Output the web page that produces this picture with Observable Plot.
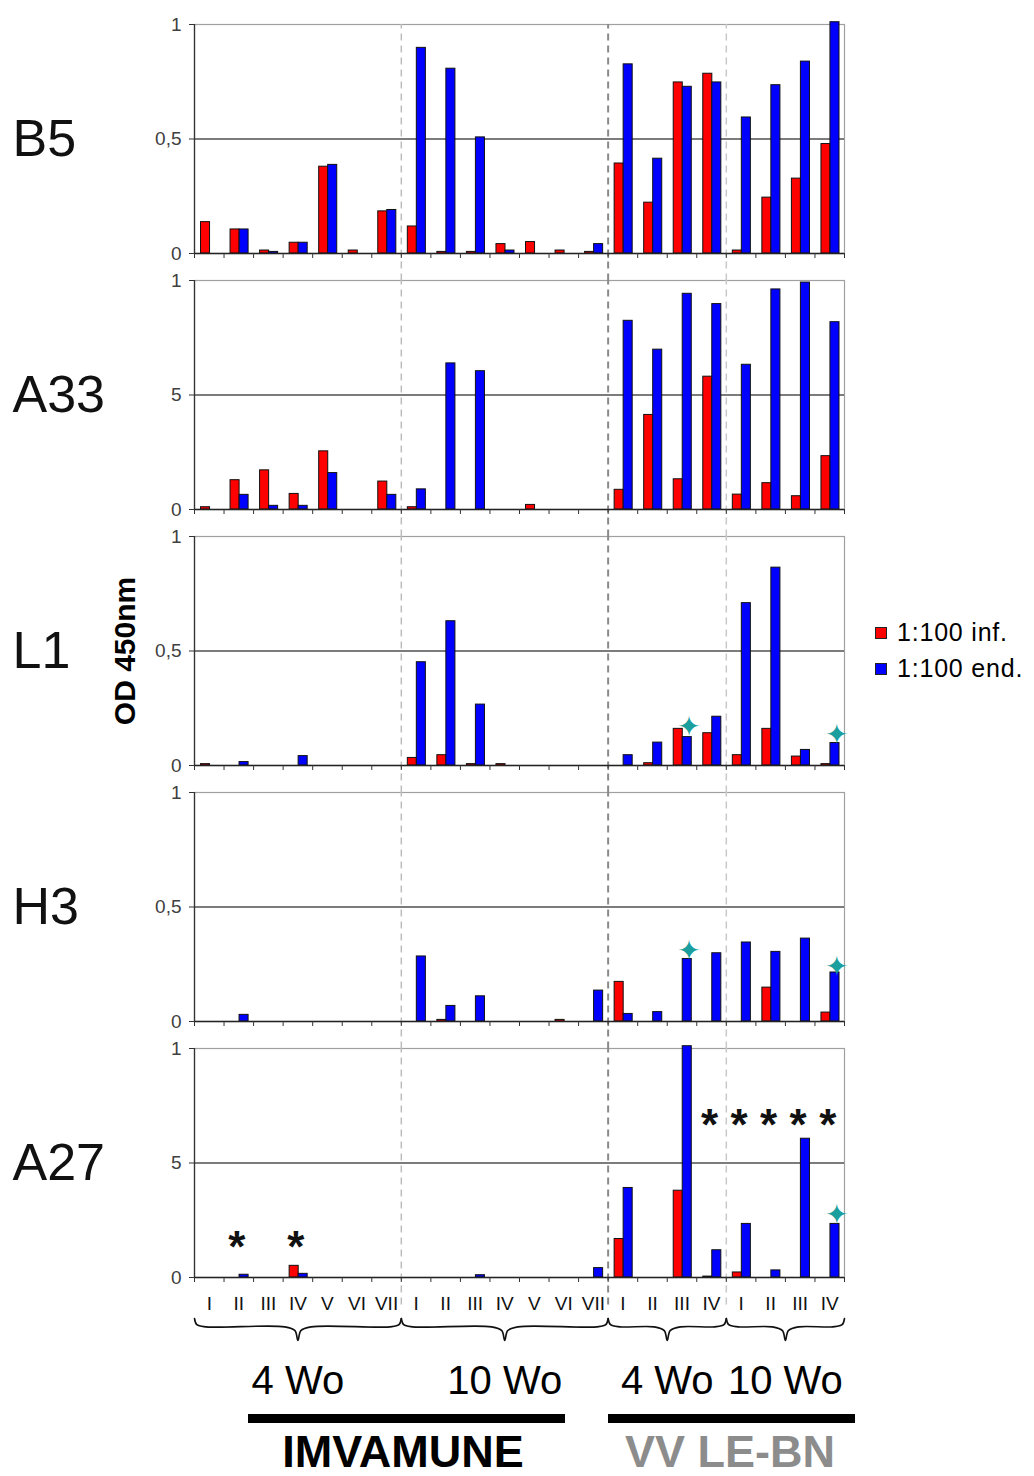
<!DOCTYPE html>
<html><head><meta charset="utf-8">
<script src="https://cdn.jsdelivr.net/npm/d3@7"></script>
<script src="https://cdn.jsdelivr.net/npm/@observablehq/plot@0.6"></script>
<style>
body{margin:0;background:#fff;font-family:"Liberation Sans",Arial,sans-serif;}
#wrap{position:relative;width:1034px;height:1476px;overflow:hidden;background:#fff;}
.abs{position:absolute;}
#main{left:0;top:0;}
#bottom{left:0;top:1310px;}
.ylab{left:125px;top:651px;transform:translate(-50%,-50%) rotate(-90deg);font-weight:bold;font-size:30px;line-height:1;white-space:nowrap;color:#000;}
.leg{left:875px;font-size:25px;letter-spacing:0.8px;color:#000;white-space:nowrap;display:flex;align-items:center;}
.leg span.sw{display:inline-block;width:10px;height:10px;border:1px solid #222;margin-right:10px;}
.vbar{height:9px;background:#000;}
.vname{font-weight:bold;font-size:45px;line-height:1;transform:translate(-50%,-50%);white-space:nowrap;}
</style></head><body>
<div id="wrap"></div>
<script>
// ---------- data ----------
const panels = ["B5", "A33", "L1", "H3", "A27"];
const groupLabels = ["I","II","III","IV","V","VI","VII","I","II","III","IV","V","VI","VII","I","II","III","IV","I","II","III","IV"];
const series = ["1:100 inf.", "1:100 end."];

const b5Inf  = [0.137,0.105,0.013,0.047,0.379,0.013,0.184,0.118,0.007,0.007,0.041,0.05,0.013,0.007,0.393,0.222,0.747,0.785,0.013,0.244,0.327,0.478];
const b5End  = [0,0.105,0.007,0.047,0.387,0,0.19,0.898,0.807,0.507,0.013,0,0,0.041,0.826,0.414,0.728,0.747,0.594,0.735,0.838,1.01];
const a33Inf = [0.01,0.128,0.171,0.068,0.254,0,0.122,0.01,0,0,0,0.02,0,0,0.086,0.413,0.132,0.58,0.065,0.115,0.058,0.233];
const a33End = [0,0.064,0.016,0.016,0.159,0,0.064,0.088,0.638,0.604,0,0,0,0,0.824,0.698,0.942,0.897,0.632,0.961,0.991,0.818];
const l1Inf  = [0.006,0,0,0,0,0,0,0.033,0.045,0.006,0.006,0,0,0,0,0.01,0.16,0.141,0.045,0.16,0.039,0.006];
const l1End  = [0,0.015,0,0.041,0,0,0,0.451,0.63,0.266,0,0,0,0,0.045,0.1,0.124,0.213,0.709,0.864,0.068,0.098];
const h3Inf  = [0,0,0,0,0,0,0,0,0.007,0,0,0,0.007,0,0.173,0,0,0,0,0.148,0,0.039];
const h3End  = [0,0.029,0,0,0,0,0,0.284,0.068,0.11,0,0,0,0.135,0.033,0.041,0.273,0.298,0.345,0.304,0.362,0.214];
const a27Inf = [0,0,0,0.051,0,0,0,0,0,0,0,0,0,0,0.168,0,0.379,0.004,0.022,0,0,0];
const a27End = [0,0.012,0,0.016,0,0,0,0,0,0.01,0,0,0,0.041,0.391,0,1.01,0.119,0.234,0.031,0.606,0.234];

const yTickValues = [0, 0.5, 1];
const yTickLabelsComma = ["0", "0,5", "1"];
const yTickLabelsFive  = ["0", "5", "1"];
const panelTickLabels = {B5: yTickLabelsComma, A33: yTickLabelsFive, L1: yTickLabelsComma, H3: yTickLabelsComma, A27: yTickLabelsFive};

// sections of the x axis (group index ranges)
const sectionLabels = ["4 Wo", "10 Wo", "4 Wo", "10 Wo"];
const sectionStarts = [0, 7, 14, 18];
const sectionEnds   = [7, 14, 18, 22];

// annotations: teal stars and asterisks (panel, group index, height)
const starPanels = ["L1", "L1", "H3", "H3", "A27"];
const starGroups = [16, 21, 16, 21, 21];
const starY      = [0.18, 0.145, 0.32, 0.25, 0.285];
const astPanels = ["A27","A27","A27","A27","A27","A27","A27"];
const astGroups = [1, 3, 17, 18, 19, 20, 21];
const astY      = [0.175, 0.175, 0.707, 0.707, 0.707, 0.707, 0.707];

const vaccineNames = ["IMVAMUNE", "VV LE-BN"];

// ---------- tables ----------
const panelData = {B5: [b5Inf, b5End], A33: [a33Inf, a33End], L1: [l1Inf, l1End], H3: [h3Inf, h3End], A27: [a27Inf, a27End]};
const rows = [];
for (const p of panels) {
  panelData[p].forEach((arr, s) => arr.forEach((v, i) => {
    if (v > 0) rows.push({panel: p, group: i, series: series[s], value: v});
  }));
}
const infRows = rows.filter(d => d.series === series[0]);
const endRows = rows.filter(d => d.series === series[1]);
const tickRows = panels.flatMap(p => yTickValues.map((v, k) => ({panel: p, value: v, label: panelTickLabels[p][k]})));
const stars = starPanels.map((p, k) => ({panel: p, group: starGroups[k], y: starY[k]}));
const asts = astPanels.map((p, k) => ({panel: p, group: astGroups[k], y: astY[k]}));
const sections = sectionLabels.map((l, k) => ({label: l, start: sectionStarts[k], end: sectionEnds[k]}));
const separators = sectionStarts.slice(1);
const boundaries = d3.range(0, groupLabels.length + 1);
const centers = d3.range(groupLabels.length).map(i => i + 0.5);

const W = 1034, ML = 194, MR = 190, MT = 23, MB = 40, H = 1317;
const font = "'Liberation Sans', Arial, sans-serif";

const sepStyle = k => [{stroke: "#bdbdbd", strokeWidth: 1.5}, {stroke: "#8a8a8a", strokeWidth: 2}, {stroke: "#c8c8c8", strokeWidth: 1.5}][k];

const main = Plot.plot({
  width: W, height: H,
  marginLeft: ML, marginRight: MR, marginTop: MT, marginBottom: MB,
  style: {fontFamily: font, background: "white", overflow: "visible"},
  x: {domain: [0, groupLabels.length]},
  y: {domain: [0, 1], axis: null},
  fy: {domain: panels, axis: null, paddingInner: 0.1063, paddingOuter: 0},
  marks: [
    Plot.frame({stroke: "#a0a0a0", strokeWidth: 1.2}),
    Plot.ruleY([0.5], {stroke: "#505050", strokeWidth: 1.3}),
    ...separators.map((s, k) => Plot.ruleX([s], {x: d => d, y1: -0.12, y2: 1, strokeDasharray: "7,5", ...sepStyle(k)})),
    Plot.rectY(infRows, {fy: "panel", x1: "group", x2: d => d.group + 1, y: "value", fill: "#ff0000", stroke: "#111", strokeWidth: 1, insetLeft: 6.5, insetRight: 14}),
    Plot.rectY(endRows, {fy: "panel", x1: "group", x2: d => d.group + 1, y: "value", fill: "#0000ff", stroke: "#111", strokeWidth: 1, insetLeft: 15.5, insetRight: 5}),
    Plot.ruleX([0], {stroke: "#333", strokeWidth: 1.3}),
    Plot.ruleY([0], {stroke: "#222", strokeWidth: 1.3}),
    Plot.ruleY(yTickValues, {y: d => d, x1: 0, x2: 0, insetLeft: -5, stroke: "#333"}),
    Plot.ruleX(boundaries, {x: d => d, y1: 0, y2: 0, insetBottom: -5, stroke: "#333"}),
    Plot.text(tickRows, {fy: "panel", y: "value", text: "label", frameAnchor: "left", dx: -13, textAnchor: "end", fontSize: 19, fill: "#404040"}),
    Plot.text(panels, {fy: d => d, text: d => d, frameAnchor: "left", dx: -182, textAnchor: "start", fontSize: 52, fill: "#111"}),
    Plot.text(stars, {fy: "panel", x: d => d.group + 0.5, y: "y", text: () => "\u2726", dx: 7, dy: 3, fontSize: 28, fill: "#1a9e9e", fontFamily: "DejaVu Sans"}),
    Plot.text(asts, {fy: "panel", x: d => d.group + 0.5, y: "y", text: () => "*", dx: -2, dy: 10, fontSize: 44, fontWeight: "bold", fill: "#111"}),
    Plot.axisX({ticks: centers, tickFormat: d => groupLabels[Math.floor(d)], tickSize: 0, tickPadding: 19, fontSize: 19, fill: "#111", label: null})
  ]
});
main.classList.add("abs"); main.id = "main";

// braces under the axis
function bracePoints(s) {
  const a = s.start, b = s.end, m = (a + b) / 2;
  const pts = [[a, 1], [a + 0.08, 0.72], [a + 0.4, 0.62], [m - 0.45, 0.62], [m - 0.1, 0.45], [m, 0],
               [m + 0.1, 0.45], [m + 0.45, 0.62], [b - 0.4, 0.62], [b - 0.08, 0.72], [b, 1]];
  return pts.map(([x, y]) => ({section: s.start, x, y}));
}
const braceData = sections.flatMap(bracePoints);

const bottom = Plot.plot({
  width: W, height: 100,
  marginLeft: ML, marginRight: MR, marginTop: 8, marginBottom: 70,
  style: {fontFamily: font, background: "transparent", overflow: "visible"},
  x: {domain: [0, groupLabels.length], axis: null},
  y: {domain: [0, 1], axis: null},
  marks: [
    Plot.line(braceData, {x: "x", y: "y", z: "section", curve: "catmull-rom", stroke: "#111", strokeWidth: 1.6}),
    Plot.text(sections, {x: d => (d.start + d.end) / 2, frameAnchor: "bottom", dy: 53, text: "label", fontSize: 40, fill: "#000"})
  ]
});
bottom.classList.add("abs"); bottom.id = "bottom";

const wrap = document.getElementById("wrap");
wrap.appendChild(main);
wrap.appendChild(bottom);

function el(cls, style, html) {
  const d = document.createElement("div");
  d.className = "abs " + cls;
  Object.assign(d.style, style);
  if (html != null) d.innerHTML = html;
  wrap.appendChild(d);
  return d;
}
el("ylab", {}, "OD 450nm");
// legend
el("leg", {top: "618px"}, '<span class="sw" style="background:#ff0000"></span>' + series[0]);
el("leg", {top: "654px"}, '<span class="sw" style="background:#0000ff"></span>' + series[1]);
// vaccine bars and names
el("vbar", {left: "248px", top: "1414px", width: "317px"});
el("vbar", {left: "608px", top: "1414px", width: "247px"});
el("vname", {left: "403px", top: "1451px", color: "#000"}, vaccineNames[0]);
el("vname", {left: "730px", top: "1451px", color: "#8c8c8c"}, vaccineNames[1]);
</script>
</body></html>
